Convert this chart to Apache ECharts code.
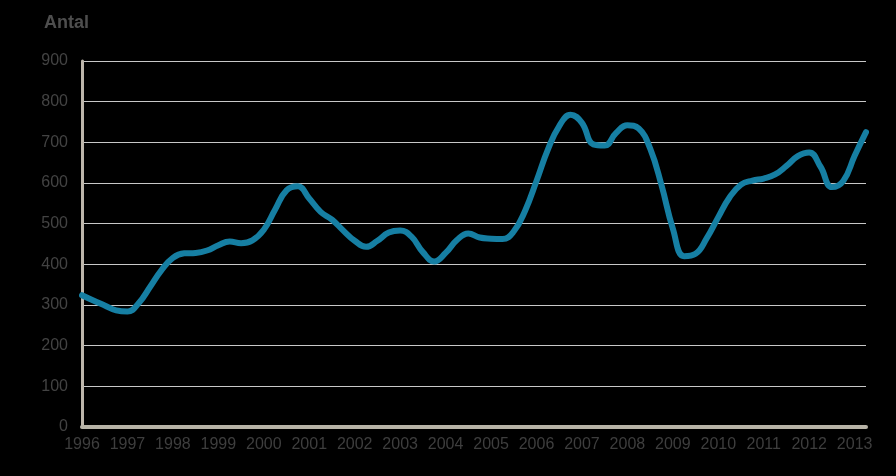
<!DOCTYPE html>
<html>
<head>
<meta charset="utf-8">
<script src="https://cdn.jsdelivr.net/npm/echarts@6/dist/echarts.min.js"></script>
<style>
html,body{margin:0;padding:0;background:#000;}
#c{width:896px;height:476px;}
</style>
</head>
<body>
<div id="c"></div>
<script>
// Quarterly categories 1996 Q1 .. 2013 Q2
const years = [1996,1997,1998,1999,2000,2001,2002,2003,2004,2005,2006,2007,2008,2009,2010,2011,2012,2013];
const quarters = ["K1","K2","K3","K4"];
const categories = [];
years.forEach(y => quarters.forEach((q, qi) => { if (!(y === 2013 && qi > 1)) categories.push(y + " " + q); }));

const values = [
  324,311,299,287,
  284,305,345,386,
  416,427,428,434,
  447,456,452,459,
  485,535,582,592,
  562,529,510,483,
  458,443,458,478,
  483,468,430,407,
  428,460,476,466,
  463,462,481,532,
  605,682,740,768,
  748,695,692,723,
  742,734,685,595,
  488,420,426,465,
  516,565,596,606,
  611,621,642,666,
  675,640,590,605,
  667,725
];

const yTicks = {min:0, max:900, interval:100};

const chart = echarts.init(document.getElementById('c'));
chart.setOption({
  backgroundColor:'#000',
  animation:false,
  title:{
    text:'Antal', left:39, top:9,
    textStyle:{color:'#4e4e4e', fontSize:18, fontWeight:'bold', fontFamily:'Liberation Sans, Arial, sans-serif'}
  },
  grid:{left:82, right:30, top:61, bottom:49, containLabel:false},
  xAxis:{
    type:'category', data:categories, boundaryGap:false,
    axisLine:{show:true, lineStyle:{color:'#b7b3a7', width:4}},
    axisTick:{show:false},
    axisLabel:{
      interval:3, margin:10, color:'#3e3e3e', fontSize:16,
      fontFamily:'Liberation Sans, Arial, sans-serif',
      formatter: v => v.slice(0,4)
    },
    splitLine:{show:false}
  },
  yAxis:{
    type:'value', min:yTicks.min, max:yTicks.max, interval:yTicks.interval,
    axisLine:{show:true, lineStyle:{color:'#bdb6ab', width:3}},
    axisTick:{show:false},
    axisLabel:{color:'#434343', fontSize:16, margin:14, fontFamily:'Liberation Sans, Arial, sans-serif'},
    splitLine:{show:true, lineStyle:{color:'#c8c8c8', width:1}}
  },
  series:[{
    type:'line', data:values, smooth:0.45, showSymbol:false,
    lineStyle:{color:'#167fa3', width:6, cap:'round'},
    z:5
  }]
});
</script>
</body>
</html>
